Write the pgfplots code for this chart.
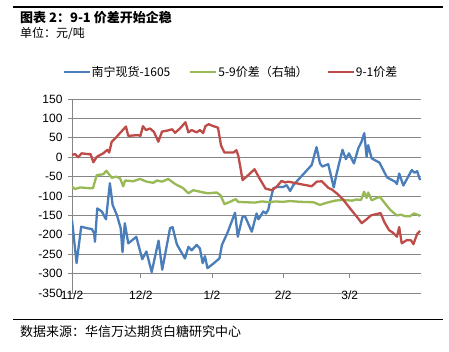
\documentclass[border=0pt]{standalone}
\usepackage{pgfplots}
\pgfplotsset{compat=1.18}
\usepackage{fontspec}
\setmainfont{Liberation Sans}
\newfontfamily\cjk{Noto Sans CJK SC}
\definecolor{sblue}{RGB}{74,126,187}
\definecolor{sgreen}{RGB}{152,185,84}
\definecolor{sred}{RGB}{190,75,72}
\definecolor{gridgray}{RGB}{134,134,134}
\begin{document}
\begin{tikzpicture}
\path[use as bounding box] (0,0) rectangle (449pt,-351pt);
\fill[white] (0,0) rectangle (449pt,-351pt);
\draw[line width=1.3pt] (13pt,-7pt) -- (443pt,-7pt);
\node[anchor=west, inner sep=0pt, font=\cjk\bfseries\fontsize{13}{15}\selectfont] at (20pt,-17.5pt) {图表 2：9-1 价差开始企稳};
\node[anchor=west, inner sep=0pt, font=\cjk\fontsize{12}{14}\selectfont] at (20pt,-33pt) {单位：元/吨};
\draw[line width=1pt] (13pt,-319pt) -- (443pt,-319pt);
\node[anchor=west, inner sep=0pt, font=\cjk\fontsize{13}{15}\selectfont] at (20pt,-332pt) {数据来源：华信万达期货白糖研究中心};
\begin{axis}[
 scale only axis, width=349pt, height=194pt,
 at={(72pt,-293pt)}, anchor=south west,
 xmin=0, xmax=152, ymin=-350, ymax=150,
 ytick={-350,-300,...,150},
 xtick={0,30,61,92,121}, xticklabels={11/2,12/2,1/2,2/2,3/2},
 axis y line*=left, axis x line*=bottom,
 axis line style={draw=gridgray, line width=0.8pt, -},
 ymajorgrids, grid style={gridgray, line width=0.8pt},
 ytick align=outside, major tick length=4pt,
 ytick style={gridgray, line width=0.8pt},
 xtick style={draw=none},
 tick label style={font=\fontsize{12}{14}\selectfont, text=black},
 /pgf/number format/assume math mode=true,
 yticklabel style={xshift=-2pt},
 xticklabel style={anchor=center, yshift=-2pt},
 legend style={at={(0.454,1.139)}, anchor=center, draw=none, fill=none,
   font=\cjk\fontsize{12}{14}\selectfont, inner sep=0pt, nodes={inner sep=1pt},
   /tikz/every even column/.append style={column sep=18pt}},
 legend columns=3,
 legend image code/.code={\draw[#1, line width=2pt] (0pt,0pt) -- (26pt,0pt);},
]
\draw[gridgray, line width=0.8pt] (axis cs:0,-300) -- ++(0pt,-4pt);
\draw[gridgray, line width=0.8pt] (axis cs:30,-300) -- ++(0pt,-4pt);
\draw[gridgray, line width=0.8pt] (axis cs:61,-300) -- ++(0pt,-4pt);
\draw[gridgray, line width=0.8pt] (axis cs:92,-300) -- ++(0pt,-4pt);
\draw[gridgray, line width=0.8pt] (axis cs:121,-300) -- ++(0pt,-4pt);
\draw[gridgray, line width=0.8pt] (axis cs:152,-300) -- ++(0pt,-4pt);
\addplot[sblue, line width=2.3pt, line join=round] coordinates {
(0,-162) (2,-273) (4,-179) (6.5,-183) (8.6,-185) (9.6,-195) (10,-218) (11,-132)
(13,-140) (14.8,-160) (16.5,-67) (17.7,-123) (19.6,-150) (21.2,-183) (22,-245)
(23,-170) (24.5,-222) (26,-215) (28,-205) (30.6,-263) (32.4,-243) (34.7,-296)
(37.7,-215) (39.3,-290) (42.7,-183) (43.8,-180) (45.7,-225) (49.2,-261)
(50.7,-231) (52.1,-240) (54.3,-226) (55.7,-235) (56.9,-273) (57.9,-255)
(59,-286) (61.4,-275) (64.2,-261) (65.3,-226) (67.7,-195) (71,-143) (72.2,-205)
(74.3,-153) (75.4,-153) (78.3,-192) (80.4,-145) (81.2,-160) (83.3,-140)
(84.5,-145) (85.5,-135) (86.2,-115) (87.7,-80) (89,-77) (91.9,-77) (93.5,-72)
(95,-87) (96.4,-72) (104.4,-20) (106.5,26) (108,-16) (109,-24) (111.6,-18)
(114,-78) (115.3,-41) (117.8,19) (119.3,-5) (120.6,10) (122.8,-16) (124.7,23)
(126.1,40) (127.3,62) (128.3,1) (129,31) (130.5,-3) (133.9,-14) (135.9,-37)
(137.2,-52) (140.7,-63) (141.5,-69) (142.5,-42) (144.3,-73) (148,-33)
(149.2,-40) (150.3,-36) (151.6,-59)
};
\addlegendentry{南宁现货-1605}
\addplot[sgreen, line width=2.3pt, line join=round] coordinates {
(0,-76) (1.3,-82) (3.5,-78) (7.8,-80) (9.1,-80) (10.8,-46) (13.6,-44) (15,-35)
(17.3,-53) (19.2,-50) (20.9,-54) (22.3,-75) (23.1,-60) (26.6,-62) (29.6,-56)
(32.5,-63) (35.4,-66) (37,-60) (39.3,-63) (41.9,-56) (44.9,-69) (48.5,-80)
(50.7,-93) (52.8,-85) (56.5,-90) (59.2,-93) (63,-91) (64.7,-98) (66.4,-121)
(68.8,-115) (71.3,-108) (72.3,-115) (75.3,-116) (79.7,-117) (82.8,-114)
(86.2,-116) (88.4,-114) (91.9,-115) (95,-113) (99.3,-115) (105.1,-116)
(108,-123) (111.1,-117) (114.5,-112) (118,-110) (122,-112) (123.7,-109)
(125.9,-110) (127.2,-89) (128.3,-105) (129,-91) (130.5,-111) (132.4,-106)
(134.1,-102) (136.3,-119) (138.5,-135) (141.4,-150) (143.3,-148) (145,-152)
(147.2,-152) (149,-145) (151.6,-151)
};
\addlegendentry{5-9价差（右轴）}
\addplot[sred, line width=2.3pt, line join=round] coordinates {
(0,6) (1.3,8) (2.7,0) (4.2,10) (7,8) (8.1,8) (9.3,-13) (10.8,1) (13.6,10)
(15.4,19) (16.2,12) (17.3,40) (19.5,53) (22.1,70) (23.5,79) (24.5,55) (28.7,57)
(29.8,55) (30.9,80) (32.2,70) (34,74) (35.7,65) (37.6,40) (39.2,66) (41.8,69)
(43.6,72) (44.9,63) (47,74) (49.4,90) (50.7,64) (52.1,70) (54.3,64) (55.7,70)
(57.1,62) (58.1,80) (59.5,85) (61.6,80) (63.6,76) (64.9,30) (66.4,12) (70.3,12)
(71.6,18) (72.5,2) (74.3,-59) (76.8,-46) (79.5,-31) (81.6,-54) (84.3,-81)
(87,-85) (89,-77) (91.3,-61) (92.8,-65) (94.2,-63) (99.3,-69) (104.4,-75)
(106.6,-63) (108.8,-62) (111.6,-79) (113.1,-83) (115.3,-93) (118.2,-110)
(121.1,-132) (124,-153) (126.2,-170) (128.3,-160) (130.2,-150) (134.4,-144)
(136.1,-168) (138.1,-188) (139.9,-195) (141.5,-205) (142.5,-180) (143.6,-222)
(145.7,-214) (147.6,-214) (148.7,-224) (150.3,-198) (151.6,-190)
};
\addlegendentry{9-1价差}
\end{axis}
\end{tikzpicture}
\end{document}
